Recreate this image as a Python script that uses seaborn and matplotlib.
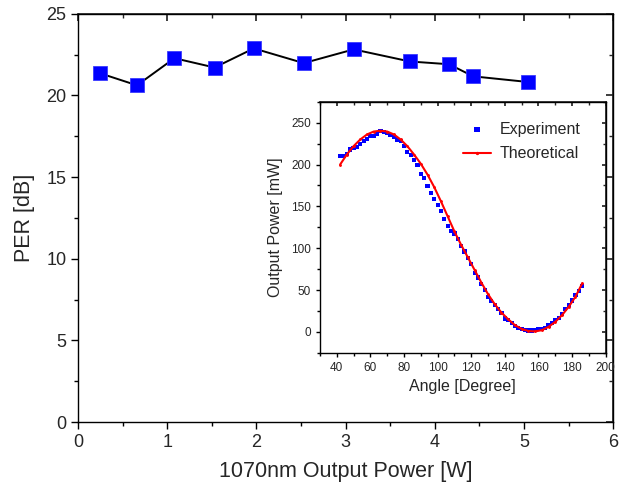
import numpy as np
import pandas as pd
import matplotlib
matplotlib.use("Agg")
import matplotlib.pyplot as plt
from matplotlib.ticker import MultipleLocator
import seaborn as sns

# main plot: PER vs pump power
power_w = [0.25, 0.66, 1.08, 1.53, 1.97, 2.53, 3.09, 3.72, 4.16, 4.43, 5.05]
per_db = [21.35, 20.62, 22.28, 21.71, 22.88, 21.98, 22.82, 22.08, 21.91, 21.17, 20.82]

# inset: output power vs waveplate angle (measured)
exp_angle = [42, 44, 46, 48, 50, 52, 54, 56, 58, 60, 62, 64, 66, 68, 70, 72, 74, 76,
             78, 80, 82, 84, 86, 88, 90, 92, 94, 96, 98, 100, 102, 104, 106, 108, 110,
             112, 114, 116, 118, 120, 122, 124, 126, 128, 130, 132, 134, 136, 138, 140,
             142, 144, 146, 148, 150, 152, 154, 156, 158, 160, 162, 164, 166, 168, 170,
             172, 174, 176, 178, 180, 182, 184, 186]
exp_power = [210, 210.5, 213, 218, 220, 221, 225, 228, 231, 234, 234.5, 237, 240, 238.5,
             237.5, 235, 232.5, 230, 228, 222, 215, 211, 205, 199, 189, 183.5, 174, 166,
             159, 151.5, 144, 135, 127, 121, 117.5, 111, 103, 96, 88, 81, 70, 65, 57, 50,
             42, 37, 32, 27, 22.5, 16, 14, 11, 7, 5, 3.5, 2.4, 1.6, 1.6, 2, 3, 3.5, 5,
             7.5, 11, 14, 17, 21, 27, 32, 37.5, 44, 49, 55]

# inset: theoretical curve
th_angle = [42, 46, 50, 54, 58, 62, 66, 70, 74, 78, 82, 86, 90, 94, 98, 102, 106, 110,
            114, 118, 122, 126, 130, 134, 138, 142, 146, 150, 154, 158, 162, 166, 170,
            174, 178, 182, 186]
th_power = [200, 212, 222, 230, 236, 239.5, 240.5, 239.5, 236, 230, 222, 212, 201, 188,
            173, 156, 138, 120, 104, 89, 74, 59, 45, 33, 23, 15, 8, 3.5, 1, 0.5, 2, 6,
            12, 20, 30, 42, 58]

sns.set_theme(style="ticks")
plt.rcParams["font.family"] = ["Liberation Sans", "DejaVu Sans"]

df_main = pd.DataFrame({"power": power_w, "per": per_db})
df_exp = pd.DataFrame({"angle": exp_angle, "power": exp_power})
df_th = pd.DataFrame({"angle": th_angle, "power": th_power})

fig = plt.figure(figsize=(6.2, 4.92), dpi=100)
ax = fig.add_axes([0.126, 0.142, 0.863, 0.830])

sns.lineplot(data=df_main, x="power", y="per", ax=ax, color="black", linewidth=1.4,
             marker="s", markersize=9.5, markerfacecolor="#0000ff",
             markeredgecolor="#3a3aff", markeredgewidth=0.6)
ax.set_xlim(0, 6)
ax.set_ylim(0, 25)
ax.xaxis.set_major_locator(MultipleLocator(1))
ax.xaxis.set_minor_locator(MultipleLocator(0.5))
ax.yaxis.set_major_locator(MultipleLocator(5))
ax.yaxis.set_minor_locator(MultipleLocator(2.5))
ax.set_xlabel("1070nm Output Power [W]", fontsize=15.5, labelpad=7)
ax.set_ylabel("PER [dB]", fontsize=15.5, labelpad=8)


def style_ticks(a, size, major_len, minor_len):
    a.tick_params(which="major", direction="out", length=major_len, width=1,
                  labelsize=size, color="black")
    a.tick_params(which="minor", direction="out", length=minor_len, width=1,
                  color="black")
    for s in a.spines.values():
        s.set_linewidth(1.0)
        s.set_color("black")
    top = a.secondary_xaxis("top")
    top.xaxis.set_major_locator(a.xaxis.get_major_locator())
    top.xaxis.set_minor_locator(a.xaxis.get_minor_locator())
    top.tick_params(which="major", direction="in", length=major_len, labeltop=False)
    top.tick_params(which="minor", direction="in", length=minor_len)
    right = a.secondary_yaxis("right")
    right.yaxis.set_major_locator(a.yaxis.get_major_locator())
    right.yaxis.set_minor_locator(a.yaxis.get_minor_locator())
    right.tick_params(which="major", direction="in", length=major_len, labelright=False)
    right.tick_params(which="minor", direction="in", length=minor_len)


style_ticks(ax, 13, 5, 3)

# inset
ins = fig.add_axes([0.516, 0.283, 0.461, 0.510])
sns.scatterplot(data=df_exp, x="angle", y="power", ax=ins, marker="s", s=9,
                color="#0000ff", edgecolor="none", label="Experiment", zorder=2)
sns.lineplot(data=df_th, x="angle", y="power", ax=ins, color="#ff0000", linewidth=1.5,
             marker=".", markersize=2.5, markeredgecolor="#ff0000",
             label="Theoretical", zorder=3)
ins.set_xlim(30, 200)
ins.set_ylim(-25, 275)
ins.xaxis.set_major_locator(MultipleLocator(20))
ins.xaxis.set_minor_locator(MultipleLocator(10))
ins.yaxis.set_major_locator(MultipleLocator(50))
ins.yaxis.set_minor_locator(MultipleLocator(25))
ins.set_xlabel("Angle [Degree]", fontsize=11.5, labelpad=4)
ins.set_ylabel("Output Power [mW]", fontsize=11.5, labelpad=6)
style_ticks(ins, 8.5, 3, 2)
ins.legend(loc="upper right", bbox_to_anchor=(0.95, 0.965), frameon=False,
           fontsize=11.5, handlelength=1.8, borderaxespad=0.3, labelspacing=0.6,
           markerscale=1.3, handletextpad=0.5)

fig.savefig("out.png", dpi=100)
